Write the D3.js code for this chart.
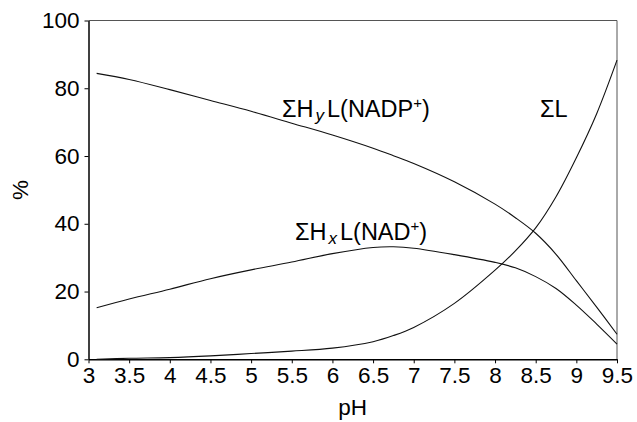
<!DOCTYPE html>
<html>
<head>
<meta charset="utf-8">
<script src="https://cdn.jsdelivr.net/npm/d3@7"></script>
<style>
  html, body { margin: 0; padding: 0; background: #fff; }
  svg { display: block; font-family: "Liberation Sans", Arial, Helvetica, sans-serif; }
</style>
</head>
<body>
<svg id="chart" width="637" height="422"></svg>
<script>
// ---- data ----
const pH = [3.1, 3.5, 4, 4.5, 5, 5.5, 6, 6.5, 6.75, 7, 7.5, 8, 8.25, 8.5, 8.75, 9, 9.25, 9.5];
const sumHyL_NADP = [84.4, 82.6, 79.6, 76.4, 73.2, 69.7, 66.2, 62.3, 60.1, 57.8, 52.4, 45.8, 41.8, 37.2, 31.0, 23.2, 15.4, 7.4];
const sumHxL_NAD  = [15.2, 17.8, 20.7, 23.8, 26.4, 28.7, 31.2, 33.0, 33.2, 32.8, 30.9, 28.6, 27.0, 24.4, 20.9, 16.0, 10.4, 4.5];
const sumL        = [0.0, 0.3, 0.5, 1.0, 1.7, 2.4, 3.3, 5.2, 7.0, 9.4, 16.5, 26.3, 32.0, 38.8, 48.0, 59.5, 72.5, 88.3];
const xTicks = [3, 3.5, 4, 4.5, 5, 5.5, 6, 6.5, 7, 7.5, 8, 8.5, 9, 9.5];
const yTicks = [0, 20, 40, 60, 80, 100];

// ---- layout ----
const W = 637, H = 422;
const margin = {left: 88.5, right: 20, top: 20.5, bottom: 62.7};
const svg = d3.select("#chart");
const x = d3.scaleLinear().domain([3, 9.5]).range([margin.left, W - margin.right]);
const y = d3.scaleLinear().domain([0, 100]).range([H - margin.bottom, margin.top]);

// frame (top and right)
svg.append("path")
  .attr("d", `M${x(3)},${y(100)}H${x(9.5)}V${y(0)}`)
  .attr("fill", "none").attr("stroke", "#555").attr("stroke-width", 1);

// axes
const xAxis = svg.append("g")
  .attr("transform", `translate(0,${y(0)})`)
  .call(d3.axisBottom(x).tickValues(xTicks).tickFormat(d3.format("")).tickSize(4).tickSizeOuter(0).tickPadding(4));
const yAxis = svg.append("g")
  .attr("transform", `translate(${x(3)},0)`)
  .call(d3.axisLeft(y).tickValues(yTicks).tickSize(4).tickSizeOuter(0).tickPadding(5));
[xAxis, yAxis].forEach(g => {
  g.selectAll("path").attr("stroke", "#000").attr("stroke-width", 1.5);
  g.selectAll("line").attr("stroke", "#000").attr("stroke-width", 1);
  g.selectAll("text").attr("fill", "#000").attr("font-size", 22.5)
    .attr("font-family", "\"Liberation Sans\", Arial, sans-serif");
});

// axis titles
svg.append("text").attr("x", (x(3) + x(9.5)) / 2).attr("y", 415)
  .attr("text-anchor", "middle").attr("font-size", 22.5).text("pH");
svg.append("text")
  .attr("transform", `translate(28,${(y(0) + y(100)) / 2}) rotate(-90)`)
  .attr("text-anchor", "middle").attr("font-size", 22.5).text("%");

// lines
const series = [sumHyL_NADP, sumHxL_NAD, sumL];
const line = d3.line().x((d, i) => x(pH[i])).y(d => y(d)).curve(d3.curveCatmullRom.alpha(0.5));
svg.append("g").selectAll("path").data(series).join("path")
  .attr("d", d => line(d))
  .attr("fill", "none").attr("stroke", "#111").attr("stroke-width", 1.1);

// series labels
function label(xp, yp, parts) {
  const t = svg.append("text").attr("x", xp).attr("y", yp).attr("font-size", 23.5).attr("fill", "#000");
  parts.forEach(p => {
    const s = t.append("tspan").text(p.t);
    if (p.sub) s.attr("font-size", 17).attr("font-style", "italic").attr("dy", 4).attr("dx", 2);
    if (p.sup) s.attr("font-size", 15).attr("dy", -9);
    if (p.back) s.attr("dy", p.back).attr("dx", p.dx || 0);
  });
}
label(282, 117, [{t: "ΣH"}, {t: "y", sub: true}, {t: "L(NADP", back: -4, dx: 3}, {t: "+", sup: true}, {t: ")", back: 9}]);
label(295, 240, [{t: "ΣH"}, {t: "x", sub: true}, {t: "L(NAD", back: -4, dx: 3}, {t: "+", sup: true}, {t: ")", back: 9}]);
label(540, 117, [{t: "ΣL"}]);
</script>
</body>
</html>
